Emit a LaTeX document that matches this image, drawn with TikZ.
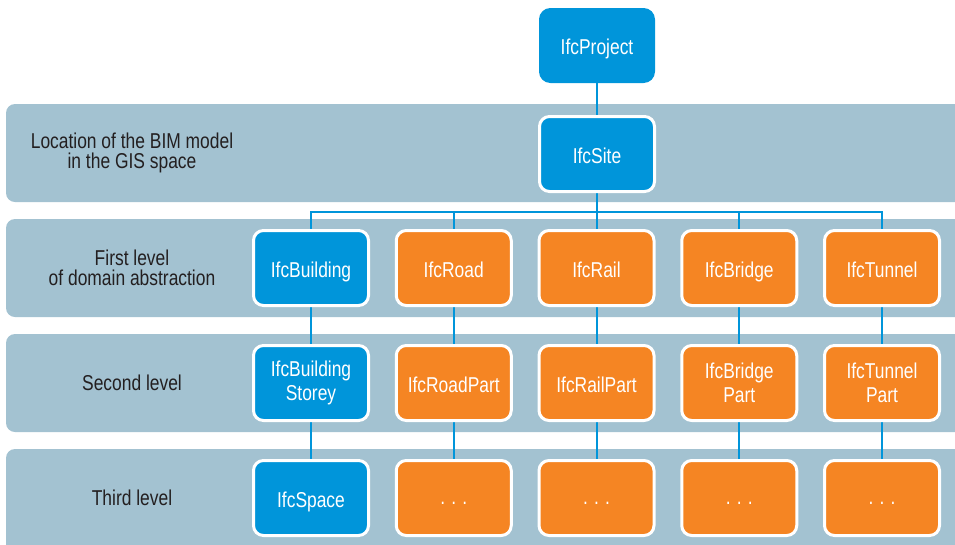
\documentclass[tikz,border=0pt]{standalone}
\usepackage{fontspec}
\setmainfont[FakeStretch=0.81]{Liberation Sans}
\definecolor{ifcblue}{HTML}{0095DA}
\definecolor{ifcorange}{HTML}{F58523}
\definecolor{bandgray}{HTML}{A3C2D1}
\definecolor{labeltext}{HTML}{231F20}
\pgfdeclarelayer{bands}
\pgfdeclarelayer{links}
\pgfsetlayers{bands,links,main}
\tikzset{
  entity/.style={draw=white, line width=3pt, rounded corners=10pt,
    minimum width=115pt, minimum height=75pt, align=center,
    text=white, font=\fontsize{21.5}{23.5}\selectfont},
  oneline/.style={text height=18.2pt, text depth=0pt},
  dots/.style={text height=12pt, text depth=0pt},
  bluebox/.style={entity, fill=ifcblue},
  orangebox/.style={entity, fill=ifcorange},
  rootbox/.style={bluebox, draw=ifcblue, minimum width=113pt, minimum height=72pt},
  band/.style={fill=bandgray, rounded corners=9pt},
  levellabel/.style={align=center, text=labeltext,
    font=\fontsize{21.5}{20.5}\selectfont},
  link/.style={draw=ifcblue, line width=2pt}
}
\newcommand{\moredots}{.\hspace{6.2pt}.\hspace{6.2pt}.}
\begin{document}
\begin{tikzpicture}[x=1pt, y=-1pt]
\useasboundingbox (0,0) rectangle (955,544);

% horizontal bands, running off the right edge
\begin{pgfonlayer}{bands}
  \fill[band] (6,104) rectangle (975,202);
  \fill[band] (6,219) rectangle (975,317);
  \fill[band] (6,334) rectangle (975,432);
  \fill[band] (6,449) rectangle (975,560);
\end{pgfonlayer}

% level captions
\node[levellabel] (lab0) at (132,153) {Location of the BIM model\\in the GIS space};
\node[levellabel] (lab1) at (132,268) {First level\\of domain abstraction};
\node[levellabel] (lab2) at (132,383) {Second level};
\node[levellabel] (lab3) at (132,498) {Third level};

% spatial root
\node[rootbox, oneline] (project) at (597,45.5) {IfcProject};
\node[bluebox, oneline] (site) at (597,154) {IfcSite};

% first level
\node[bluebox, oneline]   (building) at (311,268) {IfcBuilding};
\node[orangebox, oneline] (road)     at (453.75,268) {IfcRoad};
\node[orangebox, oneline] (rail)     at (596.5,268) {IfcRail};
\node[orangebox, oneline] (bridge)   at (739.25,268) {IfcBridge};
\node[orangebox, oneline] (tunnel)   at (882,268) {IfcTunnel};

% second level
\node[bluebox]   (storey)     at (311,383) {IfcBuilding\\Storey};
\node[orangebox, oneline] (roadpart)   at (453.75,383) {IfcRoadPart};
\node[orangebox, oneline] (railpart)   at (596.5,383) {IfcRailPart};
\node[orangebox] (bridgepart) at (739.25,383) {IfcBridge\\Part};
\node[orangebox] (tunnelpart) at (882,383) {IfcTunnel\\Part};

% third level
\node[bluebox, oneline] (space)  at (311,498) {IfcSpace};
\node[orangebox, dots] (roadx)   at (453.75,498) {\moredots};
\node[orangebox, dots] (railx)   at (596.5,498) {\moredots};
\node[orangebox, dots] (bridgex) at (739.25,498) {\moredots};
\node[orangebox, dots] (tunnelx) at (882,498) {\moredots};

% connectors
\coordinate (bus) at (597,212);
\begin{pgfonlayer}{links}
  \draw[link] (project) -- (site);
  \draw[link] (site) -- (bus);
  \draw[link] (building) |- (bus) -| (tunnel);
  \foreach \t in {road,rail,bridge}
    \draw[link] (\t) -- (\t |- bus);
  \foreach \a/\b/\c in {building/storey/space, road/roadpart/roadx,
      rail/railpart/railx, bridge/bridgepart/bridgex, tunnel/tunnelpart/tunnelx}
    \draw[link] (\a) -- (\b) -- (\c);
\end{pgfonlayer}
\end{tikzpicture}
\end{document}
